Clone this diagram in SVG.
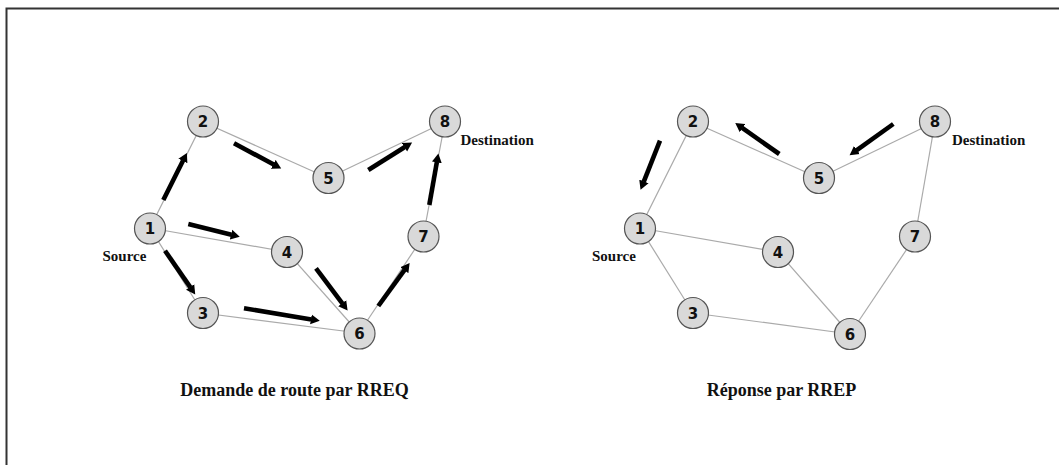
<svg xmlns="http://www.w3.org/2000/svg" width="1059" height="465" viewBox="0 0 1059 465">
<defs>
<style>
.frame{fill:none;stroke:#333;stroke-width:2}
.edge{stroke:#aaa;stroke-width:1.2;fill:none}
.arr{stroke:#000;stroke-width:4.6;fill:none;marker-end:url(#ah)}
.node circle{fill:#d9d9d9;stroke:#555;stroke-width:1.2}
.node text{font-family:"DejaVu Sans",sans-serif;font-weight:bold;font-size:15px;text-anchor:middle;fill:#111}
.lbl{font-family:"Liberation Serif","Times New Roman",serif;font-weight:bold;font-size:15px;fill:#111}
.title{font-family:"Liberation Serif","Times New Roman",serif;font-weight:bold;font-size:18px;fill:#111;text-anchor:middle}
</style>
<marker id="ah" markerUnits="userSpaceOnUse" markerWidth="10" markerHeight="11" refX="0.5" refY="5.5" orient="auto">
<path d="M0,0.5 L9,5.5 L0,10.5 z" fill="#000"/>
</marker>
</defs>
<rect width="1059" height="465" fill="#fff"/>
<path class="frame" d="M6.5,465 V8.5 H1059"/>
<g id="connectors">
<g id="edges-left">
<line class="edge" x1="150" y1="228" x2="203" y2="122"/>
<line class="edge" x1="203" y1="122" x2="328" y2="178"/>
<line class="edge" x1="328" y1="178" x2="445" y2="122"/>
<line class="edge" x1="445" y1="122" x2="423" y2="237"/>
<line class="edge" x1="423" y1="237" x2="359" y2="333"/>
<line class="edge" x1="150" y1="228" x2="287" y2="252"/>
<line class="edge" x1="287" y1="252" x2="359" y2="333"/>
<line class="edge" x1="150" y1="228" x2="203" y2="313"/>
<line class="edge" x1="203" y1="313" x2="359" y2="333"/>
</g>
<g id="edges-right">
<line class="edge" x1="640" y1="228" x2="693" y2="122"/>
<line class="edge" x1="693" y1="122" x2="819" y2="178"/>
<line class="edge" x1="819" y1="178" x2="935" y2="122"/>
<line class="edge" x1="935" y1="122" x2="915" y2="237"/>
<line class="edge" x1="915" y1="237" x2="850" y2="334"/>
<line class="edge" x1="640" y1="228" x2="778" y2="252"/>
<line class="edge" x1="778" y1="252" x2="850" y2="334"/>
<line class="edge" x1="640" y1="228" x2="693" y2="313"/>
<line class="edge" x1="693" y1="313" x2="850" y2="334"/>
</g>
<g id="arrows-left">
<line class="arr" x1="163.3" y1="200" x2="183.1" y2="160.5"/>
<line class="arr" x1="234" y1="143.3" x2="273.7" y2="164.5"/>
<line class="arr" x1="368.3" y1="170" x2="404.9" y2="147"/>
<line class="arr" x1="429.3" y1="205" x2="436.9" y2="161.9"/>
<line class="arr" x1="188.3" y1="224" x2="231.5" y2="234.8"/>
<line class="arr" x1="165" y1="250.7" x2="190.4" y2="287.4"/>
<line class="arr" x1="316" y1="268.3" x2="342.5" y2="303.6"/>
<line class="arr" x1="244" y1="308.3" x2="311.4" y2="319.4"/>
<line class="arr" x1="378.3" y1="306" x2="404.6" y2="269.8"/>
</g>
<g id="arrows-right">
<line class="arr" x1="660" y1="140.7" x2="643.7" y2="181.9"/>
<line class="arr" x1="779.3" y1="154" x2="742.2" y2="127.9"/>
<line class="arr" x1="893.3" y1="124" x2="856.5" y2="150.3"/>
</g>
</g>
<g id="L1" class="node"><circle cx="150" cy="228.5" r="15.5"/><text x="150" y="234">1</text></g>
<g id="L2" class="node"><circle cx="203" cy="121.5" r="15.5"/><text x="203" y="127">2</text></g>
<g id="L3" class="node"><circle cx="203" cy="313" r="15.5"/><text x="203" y="318.5">3</text></g>
<g id="L4" class="node"><circle cx="287" cy="252" r="15.5"/><text x="287" y="257.5">4</text></g>
<g id="L5" class="node"><circle cx="328.5" cy="178" r="15.5"/><text x="328.5" y="183.5">5</text></g>
<g id="L6" class="node"><circle cx="359.5" cy="333.5" r="15.5"/><text x="359.5" y="339">6</text></g>
<g id="L7" class="node"><circle cx="423.5" cy="236.5" r="15.5"/><text x="423.5" y="242">7</text></g>
<g id="L8" class="node"><circle cx="445" cy="121.5" r="15.5"/><text x="445" y="127">8</text></g>
<g id="R1" class="node"><circle cx="640" cy="228.5" r="15.5"/><text x="640" y="234">1</text></g>
<g id="R2" class="node"><circle cx="693" cy="121.5" r="15.5"/><text x="693" y="127">2</text></g>
<g id="R3" class="node"><circle cx="693" cy="313" r="15.5"/><text x="693" y="318.5">3</text></g>
<g id="R4" class="node"><circle cx="778" cy="252" r="15.5"/><text x="778" y="257.5">4</text></g>
<g id="R5" class="node"><circle cx="819" cy="178" r="15.5"/><text x="819" y="183.5">5</text></g>
<g id="R6" class="node"><circle cx="850" cy="334" r="15.5"/><text x="850" y="339.5">6</text></g>
<g id="R7" class="node"><circle cx="915" cy="236.5" r="15.5"/><text x="915" y="242">7</text></g>
<g id="R8" class="node"><circle cx="935" cy="121.5" r="15.5"/><text x="935" y="127">8</text></g>
<g id="labels">
<text class="lbl" x="102.5" y="261">Source</text>
<text class="lbl" x="460.5" y="145">Destination</text>
<text class="lbl" x="592" y="261">Source</text>
<text class="lbl" x="952" y="145">Destination</text>
<text class="title" x="294.5" y="396">Demande de route par RREQ</text>
<text class="title" x="781.5" y="396">Réponse par RREP</text>
</g>
</svg>
